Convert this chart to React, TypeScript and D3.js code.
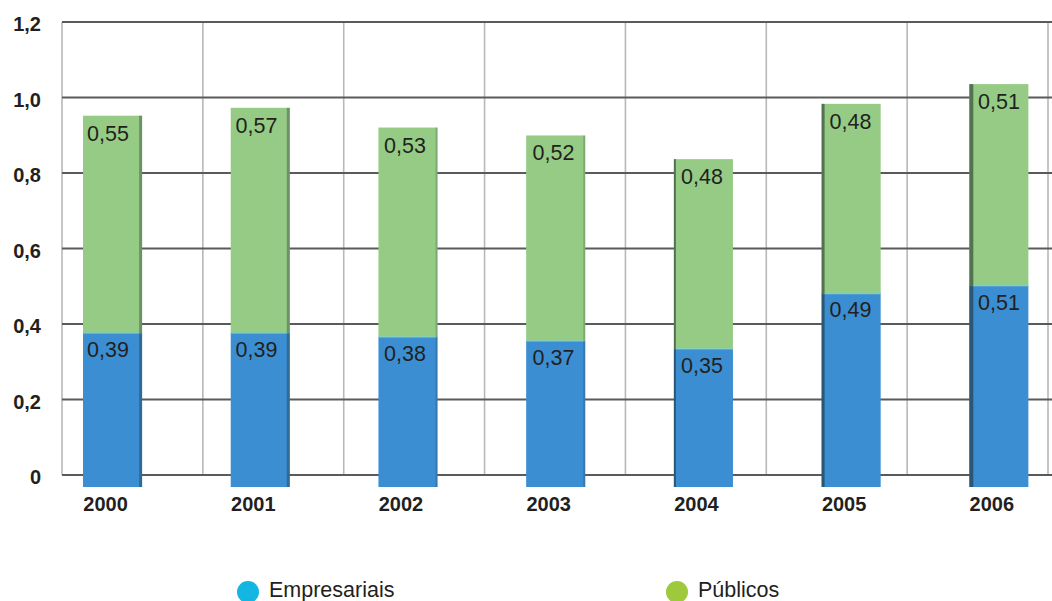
import React from "react";
import * as d3 from "d3";

const years = ["2000", "2001", "2002", "2003", "2004", "2005", "2006"];
const empresariais = [0.39, 0.39, 0.38, 0.37, 0.35, 0.49, 0.51];
const publicos = [0.55, 0.57, 0.53, 0.52, 0.48, 0.48, 0.51];
const yTicks = [0, 0.2, 0.4, 0.6, 0.8, 1.0, 1.2];
const legendItems = [
  { label: "Empresariais", color: "#12b6e0", cx: 248 },
  { label: "Públicos", color: "#9ec93c", cx: 677 },
];

const W = 1052;
const H = 601;
const BLUE = "#3b8ed2";
const GREEN = "#95cb85";
const FONT = "'Liberation Sans', Arial, sans-serif";

const fmt = (v: number) => v.toFixed(2).replace(".", ",");
const fmtTick = (v: number) => (v === 0 ? "0" : v.toFixed(1).replace(".", ","));

export default function App() {
  // axis/grid scales (back wall)
  const yAxis = d3.scaleLinear().domain([0, 1.2]).range([475, 22]);
  const xGrid = d3.scaleLinear().domain([0, 7]).range([62, 1048]);
  // bar scales (front plane, perspective)
  const yBar = d3.scaleLinear().domain([0, 1.2]).range([487, 13]);
  const xBar = d3
    .scaleBand<string>()
    .domain(years)
    .range([38.7, 1072.7])
    .paddingInner(0.6)
    .paddingOuter(0.3);
  const bw = xBar.bandwidth();

  return (
    <svg
      width={W}
      height={H}
      style={{ position: "absolute", left: 0, top: 0, background: "#fff" }}
      fontFamily={FONT}
    >
      <rect x={0} y={0} width={W} height={H} fill="#fff" />
      {/* vertical grid lines */}
      {d3.range(0, 8).map((i) => (
        <line
          key={"vg" + i}
          x1={xGrid(i)}
          x2={xGrid(i)}
          y1={yAxis(1.2)}
          y2={yAxis(0)}
          stroke="#b8b8b8"
          strokeWidth={1.6}
        />
      ))}
      {/* horizontal grid lines */}
      {yTicks.map((t) => (
        <line
          key={"hg" + t}
          x1={62}
          x2={W}
          y1={yAxis(t)}
          y2={yAxis(t)}
          stroke="#5a5a5a"
          strokeWidth={2}
        />
      ))}
      {/* y tick labels */}
      {yTicks.map((t) => (
        <text
          key={"yt" + t}
          x={41}
          y={yAxis(t) + 9}
          textAnchor="end"
          fontSize={20}
          fontWeight="bold"
          fill="#231f20"
        >
          {fmtTick(t)}
        </text>
      ))}
      {/* bars */}
      {years.map((yr, i) => {
        const x0 = xBar(yr) as number;
        const e = empresariais[i];
        const p = publicos[i];
        const yB = yBar(e);
        const yT = yBar(e + p);
        const base = yBar(0);
        const sideLeft = i >= 4;
        const sideW = i >= 4 ? i - 2 : i <= 1 ? 3 : 2;
        const sideX = sideLeft ? x0 : x0 + bw - sideW;
        const sideOp = i >= 4 ? 0.55 : i <= 1 ? 0.35 : 0.2;
        return (
          <g key={"bar" + yr}>
            <rect x={x0} y={yB} width={bw} height={base - yB} fill={BLUE} />
            <rect x={x0} y={yT} width={bw} height={yB - yT} fill={GREEN} />
            <rect x={x0} y={yB - 1} width={bw} height={2} fill="#7ccfc6" opacity={0.6} />
            <rect
              x={sideX}
              y={yT}
              width={sideW}
              height={base - yT}
              fill="#1d2a24"
              opacity={sideOp}
            />
            <text
              x={x0 + 4 + i * 0.8}
              y={yT + 25}
              fontSize={21.5}
              fill="#231f20"
            >
              {fmt(p)}
            </text>
            <text
              x={x0 + 4 + i * 0.8}
              y={yB + 24}
              fontSize={21.5}
              fill="#231f20"
            >
              {fmt(e)}
            </text>
            <text
              x={x0 + bw / 2 - 7}
              y={511}
              textAnchor="middle"
              fontSize={20}
              fontWeight="bold"
              fill="#231f20"
            >
              {yr}
            </text>
          </g>
        );
      })}
      {/* legend */}
      {legendItems.map((it, i) => (
        <g key={"lg" + i}>
          <circle cx={it.cx} cy={592} r={11} fill={it.color} />
          <text x={it.cx + 21} y={597} fontSize={21.5} fill="#231f20">
            {it.label}
          </text>
        </g>
      ))}
    </svg>
  );
}
